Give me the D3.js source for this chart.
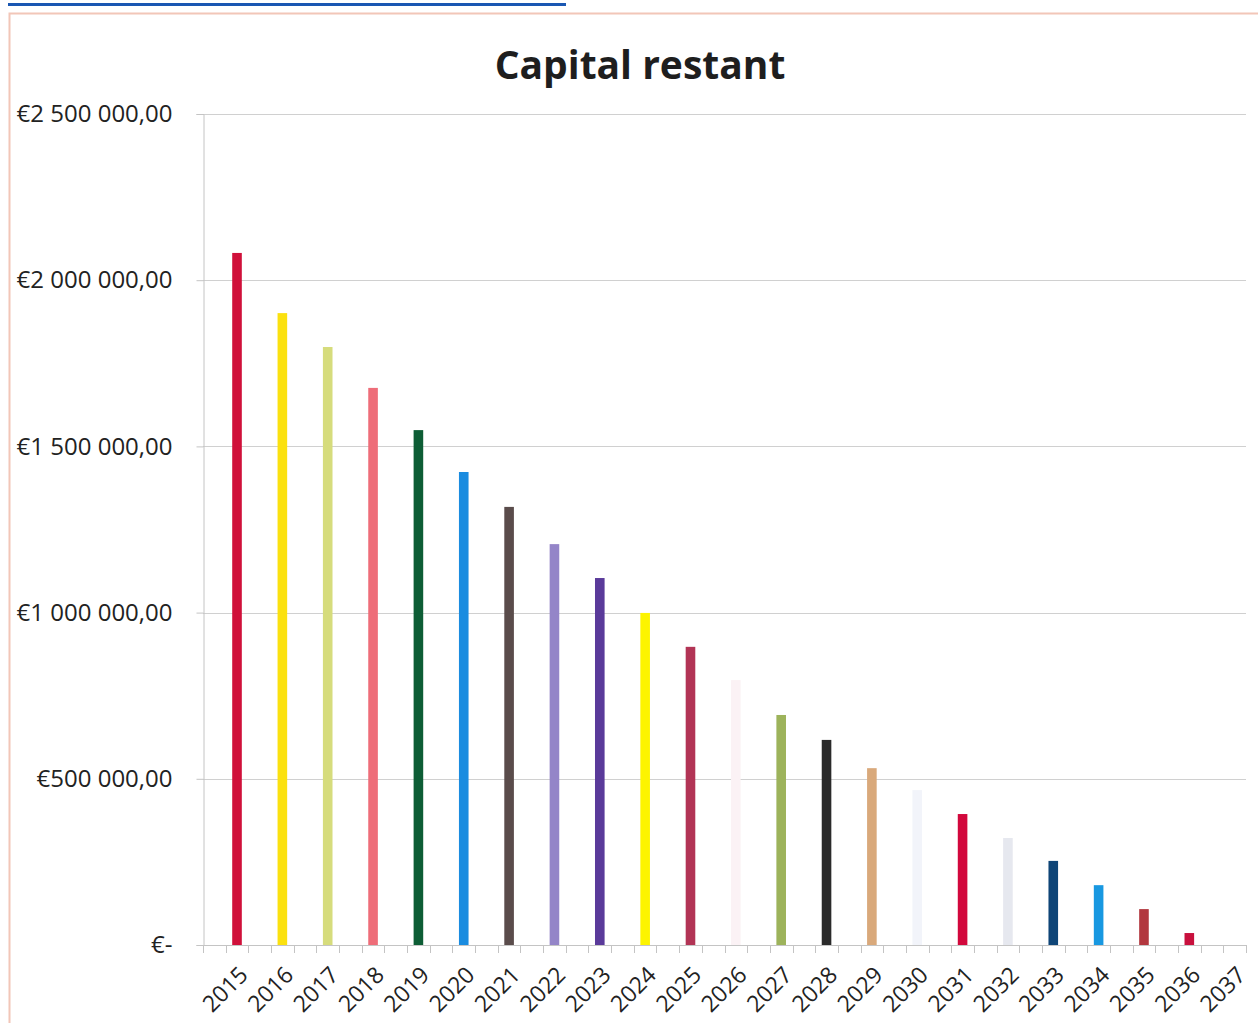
<!DOCTYPE html>
<html>
<head>
<meta charset="utf-8">
<script src="https://cdn.jsdelivr.net/npm/d3@7"></script>
<style>
html,body{margin:0;padding:0;background:#fff;}
svg{display:block;}
</style>
</head>
<body>
<svg id="chart" width="1258" height="1023"></svg>
<script>
const years = ["2015","2016","2017","2018","2019","2020","2021","2022","2023","2024","2025","2026","2027","2028","2029","2030","2031","2032","2033","2034","2035","2036","2037"];
const capital = [2082000,1901000,1799000,1676000,1549000,1423000,1318000,1206000,1104000,999000,897000,797000,692000,617000,532000,466000,394000,322000,253000,180000,108000,36000,0];
const barColors = ["#d0103a","#fbe10f","#d6dc7c","#ee6d79","#0d5d35","#1a8ce0","#5a4c4b","#9485c8","#5a3a9a","#fdf400","#b23455","#fbf2f5","#9db35b","#2a2a2a","#d9a97b","#f2f4fa","#d2083c","#e6e8ef","#0f4577","#1898e1","#b2373e","#c8103d","#ffffff"];
const yTicks = [0,500000,1000000,1500000,2000000,2500000];
const yTickLabels = ["€-","€500 000,00","€1 000 000,00","€1 500 000,00","€2 000 000,00","€2 500 000,00"];
const title = "Capital restant";

const svg = d3.select("#chart");
const m = {left:203, right:1246, top:114, bottom:945};

// frame decorations
svg.append("line").attr("x1",8).attr("x2",566).attr("y1",4.5).attr("y2",4.5)
  .attr("stroke","#1a57b2").attr("stroke-width",3);
svg.append("path").attr("d","M9.5,1023 L9.5,13.5 L1258,13.5")
  .attr("fill","none").attr("stroke","#f2c6b8").attr("stroke-width",2);

const x = d3.scaleBand().domain(years).range([m.left,m.right]).paddingInner(0).paddingOuter(0);
const y = d3.scaleLinear().domain([0,2500000]).range([m.bottom,m.top]);
const bw = x.bandwidth();

// gridlines
svg.append("g").selectAll("line").data(yTicks.slice(1)).join("line")
  .attr("x1",m.left).attr("x2",m.right)
  .attr("y1",d=>Math.round(y(d))+0.5).attr("y2",d=>Math.round(y(d))+0.5)
  .attr("stroke","#d0d0d0").attr("stroke-width",1);

// y axis
const yAxis = d3.axisLeft(y).tickValues(yTicks).tickSize(7).tickFormat((d,i)=>yTickLabels[i]);
const gy = svg.append("g").attr("transform",`translate(${m.left+0.5},0)`).call(yAxis);
gy.select(".domain").attr("stroke","#c4c4c4");
gy.selectAll(".tick line").attr("stroke","#c4c4c4");
gy.selectAll(".tick text").attr("x",-31).attr("fill","#222")
  .style("font-family","'Open Sans', sans-serif").style("font-size","24px");

// bars
svg.append("g").selectAll("rect").data(years).join("rect")
  .attr("x",(d)=>x(d)+bw*0.75-4.8)
  .attr("width",9.6)
  .attr("y",(d,i)=>y(capital[i]))
  .attr("height",(d,i)=>m.bottom-y(capital[i]))
  .attr("fill",(d,i)=>barColors[i]);

// x axis with half-band ticks
const gx = svg.append("g");
gx.append("line").attr("x1",m.left).attr("x2",m.right).attr("y1",m.bottom+0.5).attr("y2",m.bottom+0.5)
  .attr("stroke","#c4c4c4");
const tickPos = [];
years.forEach(d=>{tickPos.push(x(d)); tickPos.push(x(d)+bw/2);});
tickPos.push(m.right);
gx.selectAll("line.t").data(tickPos).join("line").attr("class","t")
  .attr("x1",d=>Math.round(d)+0.5).attr("x2",d=>Math.round(d)+0.5)
  .attr("y1",m.bottom).attr("y2",m.bottom+8).attr("stroke","#c4c4c4");
gx.selectAll("text").data(years).join("text")
  .attr("transform",d=>`translate(${x(d)+bw*0.75+1},${m.bottom+20}) rotate(-45)`)
  .attr("text-anchor","end")
  .attr("dy","0.7em")
  .attr("fill","#222")
  .style("font-family","'Open Sans', sans-serif").style("font-size","23px")
  .text(d=>d);

// title
svg.append("text").attr("x",640).attr("y",79).attr("text-anchor","middle")
  .attr("fill","#1e1e1e").style("font-family","'Open Sans', sans-serif")
  .style("font-weight","700").style("font-size","39px").text(title);
</script>
</body>
</html>
